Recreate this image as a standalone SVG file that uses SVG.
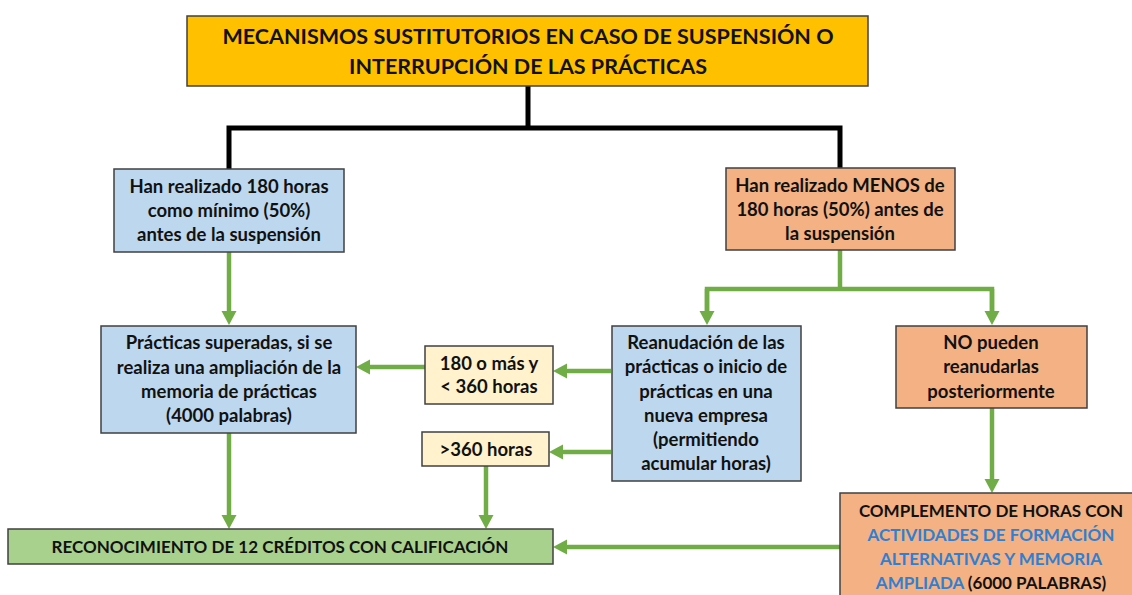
<svg xmlns="http://www.w3.org/2000/svg" width="1132" height="595" viewBox="0 0 1132 595">
<style>
.box{stroke:#404040;stroke-width:1.5}
.t{font-family:Lato,"Liberation Sans",sans-serif;font-weight:bold;font-size:18.5px;fill:#111;text-anchor:middle}
.caps{font-size:17px}
.title{font-size:21.5px}
.blue{fill:#2F7FD2}
.g{stroke:#70AD47;stroke-width:4.5;fill:none}
.k{stroke:#000;stroke-width:5;fill:none}
</style>
<defs>
<marker id="ah" markerUnits="userSpaceOnUse" markerWidth="16" markerHeight="16" refX="8" refY="7.5" orient="auto">
<path d="M0,0 L14,7.5 L0,15 Z" fill="#70AD47"/>
</marker>
</defs>
<rect width="1132" height="595" fill="#fff"/>
<g id="connectors">
<path class="k" d="M528,86 V128 H229 V169 M528,128 H840 V168"/>
<path class="g" d="M229,252 V319" marker-end="url(#ah)"/>
<path class="g" d="M840,250 V289 H707 V320 M840,289 H992 V320"/>
<path class="g" d="M707,289 V319" marker-end="url(#ah)"/>
<path class="g" d="M992,289 V319" marker-end="url(#ah)"/>
<path class="g" d="M611,371 H559" marker-end="url(#ah)"/>
<path class="g" d="M611,452 H555" marker-end="url(#ah)"/>
<path class="g" d="M425,367 H362" marker-end="url(#ah)"/>
<path class="g" d="M229,433 V523" marker-end="url(#ah)"/>
<path class="g" d="M486,466 V523" marker-end="url(#ah)"/>
<path class="g" d="M992,408 V487" marker-end="url(#ah)"/>
<path class="g" d="M840,547 H559" marker-end="url(#ah)"/>
</g>
<g id="title">
<rect class="box" x="187" y="16" width="681" height="70" fill="#FFC000"/>
<text class="t title" x="528" y="44">MECANISMOS SUSTITUTORIOS EN CASO DE SUSPENSIÓN O</text>
<text class="t title" x="528" y="74">INTERRUPCIÓN DE LAS PRÁCTICAS</text>
</g>
<g id="n180">
<rect class="box" x="114" y="169" width="230" height="83" fill="#BDD7EE"/>
<text class="t" x="229" y="193">Han realizado 180 horas</text>
<text class="t" x="229" y="217">como mínimo (50%)</text>
<text class="t" x="229" y="241">antes de la suspensión</text>
</g>
<g id="nmenos">
<rect class="box" x="726" y="168" width="229" height="82" fill="#F4B183"/>
<text class="t" x="840" y="192">Han realizado MENOS de</text>
<text class="t" x="840" y="216">180 horas (50%) antes de</text>
<text class="t" x="840" y="240">la suspensión</text>
</g>
<g id="npracticas">
<rect class="box" x="101" y="326" width="255" height="107" fill="#BDD7EE"/>
<text class="t" x="229" y="349">Prácticas superadas, si se</text>
<text class="t" x="229" y="374">realiza una ampliación de la</text>
<text class="t" x="229" y="398">memoria de prácticas</text>
<text class="t" x="229" y="422">(4000 palabras)</text>
</g>
<g id="n180mas">
<rect class="box" x="425" y="346" width="128" height="58" fill="#FFF2CC"/>
<text class="t" x="489" y="370">180 o más y</text>
<text class="t" x="489" y="393">&lt; 360 horas</text>
</g>
<g id="n360">
<rect class="box" x="422" y="432" width="127" height="34" fill="#FFF2CC"/>
<text class="t" x="486" y="456">&gt;360 horas</text>
</g>
<g id="nreanudacion">
<rect class="box" x="612" y="326" width="189" height="155" fill="#BDD7EE"/>
<text class="t" x="706" y="349">Reanudación de las</text>
<text class="t" x="706" y="373">prácticas o inicio de</text>
<text class="t" x="706" y="398">prácticas en una</text>
<text class="t" x="706" y="422">nueva empresa</text>
<text class="t" x="706" y="446">(permitiendo</text>
<text class="t" x="706" y="470">acumular horas)</text>
</g>
<g id="nnopueden">
<rect class="box" x="896" y="326" width="191" height="82" fill="#F4B183"/>
<text class="t" x="991" y="349">NO pueden</text>
<text class="t" x="991" y="373">reanudarlas</text>
<text class="t" x="991" y="398">posteriormente</text>
</g>
<g id="nreconocimiento">
<rect class="box" x="8" y="529" width="545" height="35" fill="#A9D18E"/>
<text class="t caps" x="280" y="553">RECONOCIMIENTO DE 12 CRÉDITOS CON CALIFICACIÓN</text>
</g>
<g id="ncomplemento">
<rect class="box" x="840" y="493" width="300" height="110" fill="#F4B183"/>
<text class="t caps" x="991" y="517">COMPLEMENTO DE HORAS CON</text>
<text class="t caps blue" x="991" y="541">ACTIVIDADES DE FORMACIÓN</text>
<text class="t caps blue" x="991" y="565">ALTERNATIVAS Y MEMORIA</text>
<text class="t caps" x="991" y="589"><tspan class="blue">AMPLIADA</tspan> (6000 PALABRAS)</text>
</g>
</svg>
